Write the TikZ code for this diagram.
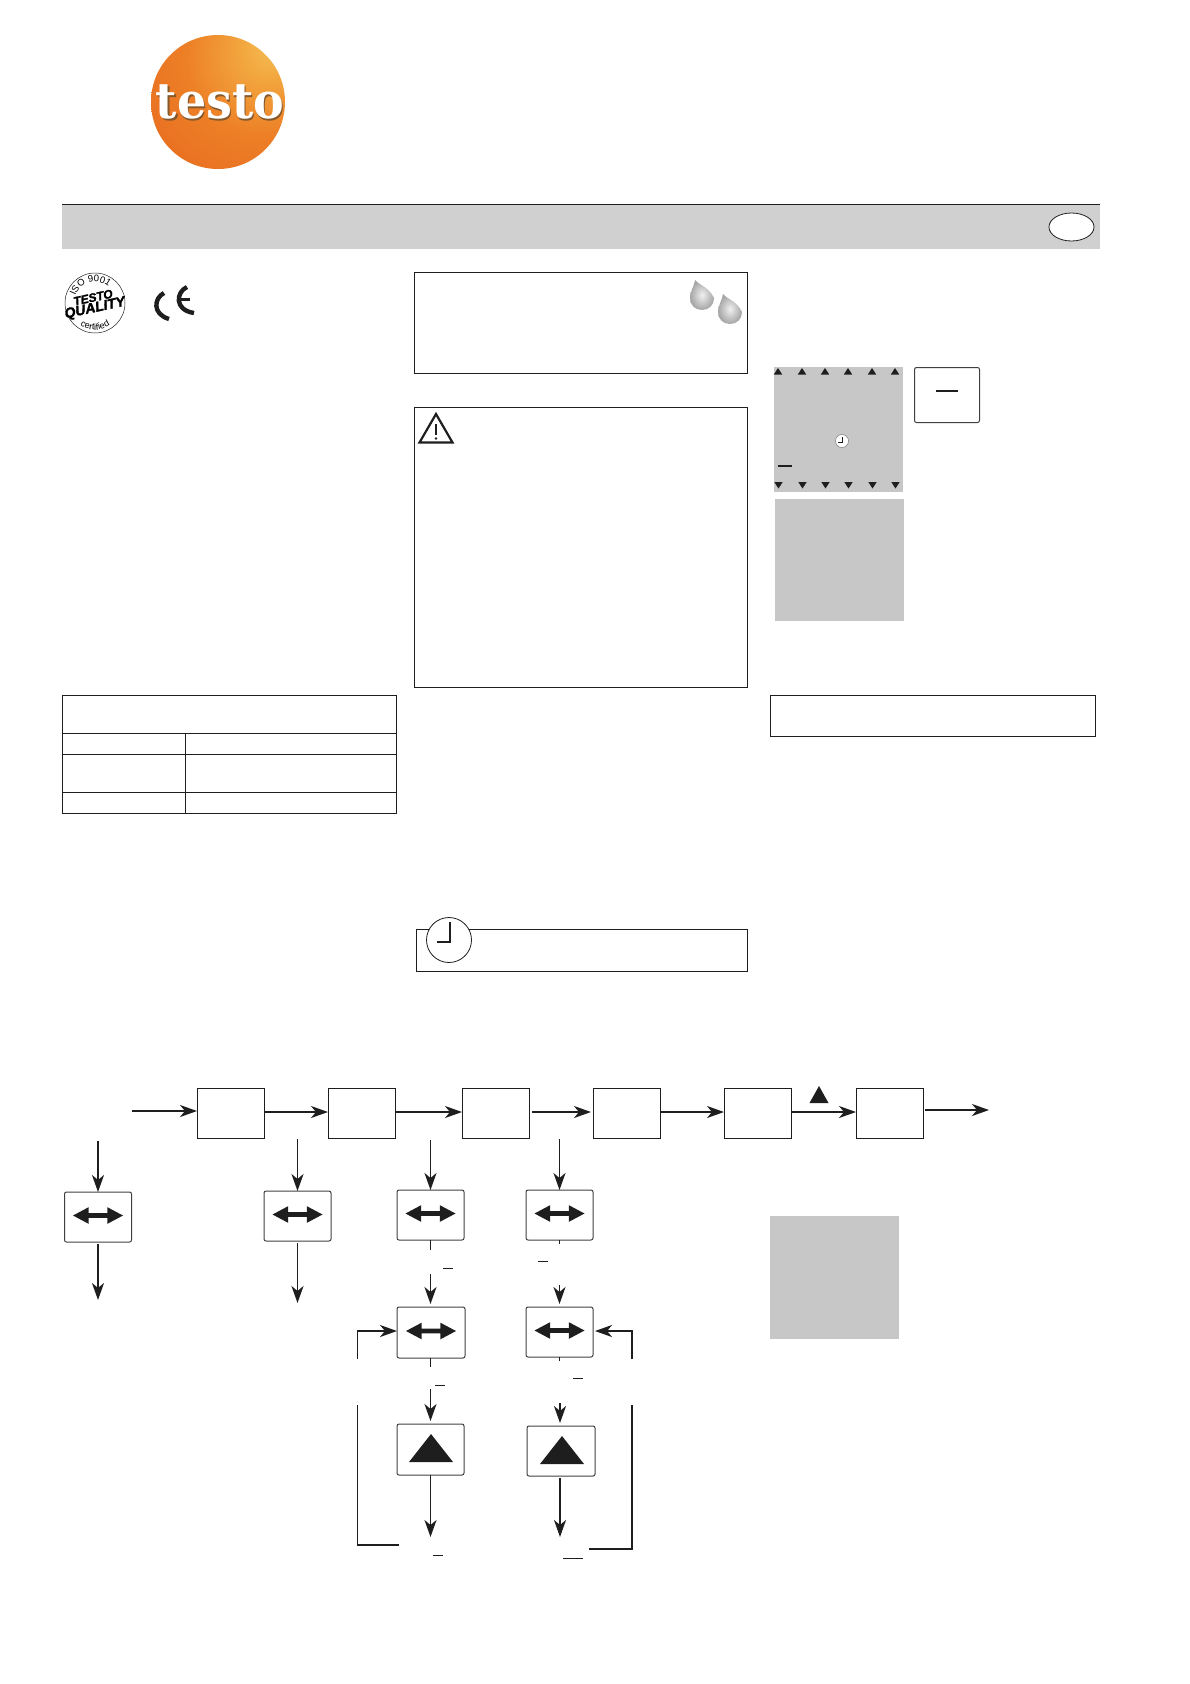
\documentclass[tikz,border=0pt]{standalone}
\usepackage{fontspec}
\setmainfont{Liberation Sans}
\newfontfamily\logofont{DejaVu Serif}
\usetikzlibrary{arrows.meta,calc,decorations.text,shapes.arrows,shapes.geometric}
\pgfdeclareradialshading{testoball}{\pgfpoint{22bp}{22bp}}{%
  rgb(0bp)=(.96,.76,.34);rgb(10bp)=(.95,.66,.25);rgb(28bp)=(.93,.50,.15);%
  rgb(55bp)=(.90,.40,.12);rgb(78bp)=(.83,.29,.10);rgb(100bp)=(.80,.26,.10)}
\definecolor{inkblack}{HTML}{1E1E1E}
\definecolor{bandgrey}{HTML}{D0D0D0}
\definecolor{panelgrey}{HTML}{C7C7C7}
\tikzset{>={Stealth[length=17pt,width=12pt,inset=5pt]}}
\tikzset{
  every node/.style={inner sep=0pt,outer sep=0pt},
  link/.style={draw=inkblack,line width=1.8pt},
  frame/.style={rectangle,draw=inkblack,line width=1pt},
  panel/.style={rectangle,fill=panelgrey},
  keybox/.style={rectangle,draw=inkblack!85,line width=1pt,rounded corners=2pt,minimum width=67pt,minimum height=50pt},
  stepbox/.style={frame,minimum width=67pt,minimum height=50pt},
  sidekey/.style={double arrow,fill=inkblack,minimum height=50pt,inner sep=2.1pt,double arrow head extend=6pt,double arrow tip angle=56},
  uptri/.style={isosceles triangle,isosceles triangle stretches,shape border rotate=90,fill=inkblack,anchor=apex},
  tick/.style={rectangle,fill=inkblack,minimum height=1pt,minimum width=10pt},
  raindrop/.pic={
    \shade[inner color=gray!12,outer color=gray!70] (-7,-18) .. controls (-3,-13) and (7,-11) .. (12,0)
      .. controls (12,7) and (7,12) .. (0,12) .. controls (-7,12) and (-12,7) .. (-12,0)
      .. controls (-12,-7) and (-8,-11) .. (-7,-18) -- cycle;
  }
}
\begin{document}
\begin{tikzpicture}[x=1pt,y=-1pt]
  \useasboundingbox (0,0) rectangle (1190,1684);
  \node[circle,minimum size=134pt,shading=testoball] (logo) at (218,102) {};
  \node[anchor=base,yscale=1.08,text=brown!70!black,font=\logofont\bfseries\fontsize{46}{46}\selectfont] (logoshadow) at (221.5,120.5) {testo};
  \node[anchor=base,yscale=1.08,text=white,font=\logofont\bfseries\fontsize{46}{46}\selectfont] (logotext) at (220,118) {testo};
  \node[rectangle,fill=bandgrey,minimum width=1038pt,minimum height=45pt] (band) at (581,226.5) {};
  \draw[inkblack,line width=1pt] (band.north west) -- (band.north east);
  \node[ellipse,draw=inkblack,fill=white,line width=.8pt,minimum width=45pt,minimum height=28pt] (lang) at (1071.5,227) {};
  \node[circle,draw=inkblack,line width=.5pt,minimum size=60pt] (badge) at (95,303) {};
  \path[decorate,decoration={text along path,text align=center,text={|\fontsize{9.5}{9.5}\selectfont|ISO 9001}}]
    ($(badge)+(165:21pt)$) arc[start angle=165,end angle=45,radius=21pt];
  \path[decorate,decoration={text along path,text align=center,text={|\fontsize{9}{9}\selectfont|certified}}]
    ($(badge)+(215:27pt)$) arc[start angle=215,end angle=325,radius=27pt];
  \node[rotate=12,font=\bfseries\itshape\addfontfeature{FakeBold=2}\fontsize{12}{12}\selectfont] (badgetop) at (93,297.5) {TESTO};
  \node[rotate=12,font=\bfseries\itshape\addfontfeature{FakeBold=2}\fontsize{14}{14}\selectfont] (badgelow) at (95,308.5) {QUALITY};
  \draw[inkblack,line width=4.4pt] (164,293) .. controls (154,298) and (152,314) .. (169,319);
  \draw[inkblack,line width=4.4pt] (187,287) .. controls (176,292) and (174,310) .. (194,313);
  \draw[inkblack,line width=3pt] (179,299) -- (190,299);
  \node[frame,minimum width=333pt,minimum height=101pt] (note) at (580.5,322.5) {};
  \pic at (702,298) {raindrop};
  \pic at (730,312) {raindrop};
  \node[frame,minimum width=333pt,minimum height=280pt] (warning) at (580.5,547) {};
  \draw[inkblack,line width=2.2pt,line join=miter] (436,414) -- (452.5,442.5) -- (419.5,442.5) -- cycle;
  \draw[inkblack,line width=2pt] (436,424) -- (436,435);
  \fill[inkblack] (436,438.5) circle (1.4pt);
  \node[panel,minimum width=129pt,minimum height=125pt] (display) at (838.5,429.5) {};
  \foreach \x in {778,802,825,848,872,895} {
    \fill[inkblack] (\x-4.2,374.5) -- (\x,368) -- (\x+4.2,374.5) -- cycle;
    \fill[inkblack] (\x-3.7,482) -- (\x+.5,488.5) -- (\x+4.7,482) -- cycle;
  }
  \node[circle,draw=inkblack!60,fill=white,line width=.5pt,minimum size=13pt] (minclock) at (842,441) {};
  \draw[inkblack,line width=.9pt] (842,436.5) -- (842,442) -- (838,442);
  \node[tick,minimum width=14pt,minimum height=1.8pt] (displaytick) at (785,466) {};
  \node[keybox,minimum width=65pt,minimum height=55pt] (minus) at (947,395) {};
  \node[tick,minimum width=22pt,minimum height=1.8pt] (minustick) at (947,391) {};
  \node[panel,minimum width=129pt,minimum height=122pt] (blank) at (839.5,560) {};
  \node[frame,minimum width=334pt,minimum height=38pt] (tablehead) at (229,714) {};
  \foreach \n/\rowy/\rowh in {1/743.5/21,2/773/38,3/802.5/21} {
    \node[frame,minimum width=123pt,minimum height=\rowh pt] (cellleft\n) at (123.5,\rowy) {};
    \node[frame,minimum width=211pt,minimum height=\rowh pt] (cellright\n) at (290.5,\rowy) {};
  }
  \node[frame,minimum width=325pt,minimum height=41pt] (rightbox) at (932.5,715.5) {};
  \node[frame,minimum width=331pt,minimum height=42pt] (clockbox) at (581.5,950) {};
  \node[circle,draw=inkblack,fill=white,line width=.8pt,minimum size=45pt] (bigclock) at (449,940) {};
  \draw[inkblack,line width=2.8pt] (450,922) -- (450,942) -- (437,942);
  \node[stepbox] (stepa) at (230.5,1113.5) {};
  \node[stepbox] (stepb) at (361.5,1113.5) {};
  \node[stepbox] (stepc) at (495.5,1113.5) {};
  \node[stepbox] (stepd) at (626.5,1113.5) {};
  \node[stepbox] (stepe) at (757.5,1113.5) {};
  \node[stepbox] (stepf) at (889.5,1113.5) {};
  \node[uptri,minimum width=19pt,minimum height=17pt] (steptri) at (819,1086) {};
  \coordinate (start) at (132,1111);
  \coordinate (row) at (0,1112);
  \coordinate (end) at (989,1110);
  \draw[->,link] (start) -- (stepa.west |- start);
  \draw[->,link] (stepa.east |- row) -- (stepb.west |- row);
  \draw[->,link,shorten <=1pt] (stepb.east |- row) -- (stepc.west |- row);
  \draw[->,link,shorten <=3pt,shorten >=2pt] (stepc.east |- row) -- (stepd.west |- row);
  \draw[->,link,shorten <=1pt] (stepd.east |- row) -- (stepe.west |- row);
  \draw[->,link] (stepe.east |- row) -- (stepf.west |- row);
  \draw[->,link,shorten <=2pt] (stepf.east |- end) -- (end);
  \node[keybox] (keya) at (98,1217) {};
  \node[keybox] (keyb) at (297.5,1216) {};
  \node[keybox] (keyc) at (430.5,1215) {};
  \node[keybox] (keyd) at (559.5,1215) {};
  \node[keybox,minimum width=68pt,minimum height=51pt] (keye) at (431,1332.5) {};
  \node[keybox] (keyf) at (559.5,1332) {};
  \node[keybox,minimum height=51pt] (keyg) at (430.5,1449.5) {};
  \node[keybox,minimum width=68pt] (keyh) at (561,1451) {};
  \foreach \k in {keya,keyb,keyc,keyd,keye,keyf} {
    \node[sidekey] (arrow\k) at ([yshift=1.5pt]\k) {};
  }
  \node[uptri,minimum width=44pt,minimum height=28pt] (trig) at (431,1434) {};
  \node[uptri,minimum width=44pt,minimum height=28pt] (trih) at (562,1436) {};
  \coordinate (ina) at (98,1141);
  \coordinate (outa) at (98,1300);
  \coordinate (inb) at (297.5,1139);
  \coordinate (outb) at (297.5,1303);
  \coordinate (inc) at (430.5,1140);
  \coordinate (stubc) at (430.5,1250);
  \coordinate (resumec) at (430.5,1274);
  \coordinate (ind) at (559.5,1139);
  \coordinate (stubd) at (559.5,1244);
  \coordinate (resumed) at (559.5,1285);
  \coordinate (stube) at (430.5,1367);
  \coordinate (resumee) at (430.5,1389);
  \coordinate (stubf) at (559.5,1361);
  \coordinate (resumef) at (560,1403);
  \coordinate (outg) at (430.5,1537);
  \coordinate (outh) at (560,1537);
  \coordinate (backl) at (357.5,1359);
  \coordinate (backr) at (632,1359);
  \coordinate (loopltop) at (357.5,1405);
  \coordinate (looplend) at (399,1545);
  \coordinate (looprtop) at (632,1405);
  \coordinate (looprend) at (589,1549);
  \draw[->,link] (ina) -- (keya);
  \draw[->,link,shorten <=2pt] (keya) -- (outa);
  \draw[->,link] (inb) -- (keyb);
  \draw[->,link,shorten <=2pt] (keyb) -- (outb);
  \draw[->,link] (inc) -- (keyc);
  \draw[link] (keyc) -- (stubc);
  \draw[->,link,shorten >=3pt] (resumec) -- (resumec |- keye.north);
  \draw[->,link] (ind) -- (keyd);
  \draw[link] (keyd) -- (stubd);
  \draw[->,link,shorten >=3pt] (resumed) -- (keyf);
  \draw[link] (keye.south -| stube) -- (stube);
  \draw[->,link,shorten >=3pt] (resumee) -- (keyg);
  \draw[link] (keyf) -- (stubf);
  \draw[->,link,shorten >=3pt] (resumef) -- (resumef |- keyh.north);
  \draw[->,link] (keyg) -- (outg);
  \draw[->,link,shorten <=2pt] (keyh.south -| outh) -- (outh);
  \draw[->,link] (backl) |- ([yshift=1.5pt]keye.west);
  \draw[->,link,shorten >=2pt] (backr) |- ([yshift=1pt]keyf.east);
  \draw[link] (loopltop) |- (looplend);
  \draw[link] (looprtop) |- (looprend);
  \node[tick] (tickc) at (448,1268) {};
  \node[tick] (tickd) at (543,1261) {};
  \node[tick] (ticke) at (440,1385) {};
  \node[tick] (tickf) at (578,1378) {};
  \node[tick] (tickg) at (438,1555) {};
  \node[tick,minimum width=20pt] (tickh) at (573,1558) {};
  \node[panel,minimum width=129pt,minimum height=123pt] (sidepanel) at (834.5,1277.5) {};
\end{tikzpicture}
\end{document}
